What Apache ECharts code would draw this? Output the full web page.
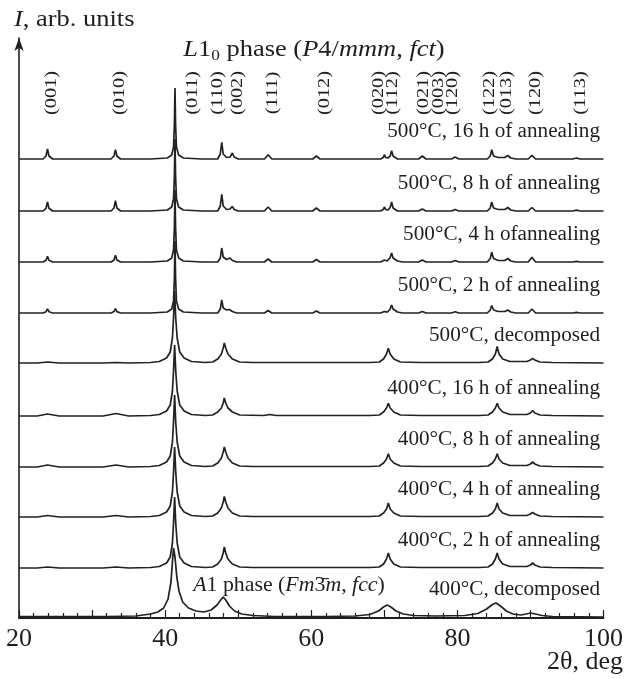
<!DOCTYPE html>
<html>
<head>
<meta charset="utf-8">
<script src="https://cdn.jsdelivr.net/npm/echarts@6/dist/echarts.min.js"></script>
<style>
  html, body { margin: 0; padding: 0; background: #fff; }
  #main { width: 626px; height: 679px; }
</style>
</head>
<body>
<div id="main"></div>
<script>
// curve names, bottom to top, and their vertical offsets (arb. units)
const traceNames = [
  '400°C, decomposed', '400°C, 2 h of annealing', '400°C, 4 h of annealing',
  '400°C, 8 h of annealing', '400°C, 16 h of annealing', '500°C, decomposed',
  '500°C, 2 h of annealing', '500°C, 4 h ofannealing', '500°C, 8 h of annealing',
  '500°C, 16 h of annealing'
];
const traceOffsets = [1, 50, 101, 151, 202, 255, 305, 356, 407, 459];

// hkl labels of the L1_0 phase and where they sit (2theta)
const peakLabels = ['(001)', '(010)', '(011)', '(110)', '(002)', '(111)', '(012)', '(020)',
  '(112)', '(021)', '(003)', '(120)', '(122)', '(013)', '(120)', '(113)'];
const peakLabelPos = [24.5, 33.7, 43.8, 47.2, 49.9, 54.7, 61.8, 69.2,
  71.1, 75.4, 77.4, 79.4, 84.4, 86.7, 90.7, 96.9];

const xTickLabels = [20, 40, 60, 80, 100];

// measured patterns [2theta, I]
const t400dec = [[20,0.5],[26,0.5],[32,0.5],[36,1],[38,3],[39,5],[39.8,9],[40.4,18],[40.8,35],[41.0,55],[41.15,69],[41.35,60],[41.6,40],[41.9,26],[42.4,15],[43.2,9],[44.2,6],[45.3,5],[46.3,7],[47.1,12],[47.6,17],[47.95,20],[48.3,17],[48.8,11],[49.5,6],[50.5,3],[52,1.5],[55,0.5],[62,0.5],[66,1],[68,2.5],[69.2,6],[69.9,10],[70.4,12],[70.9,10],[71.6,6],[72.6,3],[74,1.5],[77,1],[81,1.5],[82.8,3.5],[84.0,8],[84.8,12.5],[85.3,14],[85.9,11],[86.7,6],[87.6,3],[88.7,2],[89.4,3],[90.0,4],[90.7,3],[91.6,1.5],[93,0.5],[100,0]];
const t400h2 = [[20,0],[22.5,0],[23.9,1],[25.5,0],[31.5,0],[33.3,1],[35,0],[38,0.5],[39.2,1.5],[40.2,5],[40.7,11],[41.0,25],[41.15,45],[41.3,71],[41.45,45],[41.65,25],[42.0,11],[42.6,5],[43.6,1.5],[45.5,0.5],[46.5,1],[47.2,4],[47.7,9],[47.95,15],[48.1,21],[48.3,15],[48.6,9],[49.2,4],[50.2,1],[52,0.5],[60,0.5],[68,0.5],[69.3,1],[69.9,4],[70.3,9],[70.55,15],[70.8,9],[71.3,4],[72.2,1],[75,0.5],[83,0.5],[84.2,1],[84.8,4],[85.2,9],[85.45,15],[85.7,9],[86.2,4],[87.2,1.5],[89.5,1.5],[90.0,3],[90.3,5],[90.6,3],[91.3,1],[93,0.5],[100,0]];
const t400h4 = [[20,0],[22.5,0],[23.9,1.5],[25.5,0],[31.5,0],[33.3,1.5],[35,0],[38,0.5],[39.2,1.5],[40.2,5],[40.7,11],[41.0,25],[41.15,45],[41.3,70],[41.45,45],[41.65,25],[42.0,11],[42.6,5],[43.6,1.5],[45.5,0.5],[46.5,1],[47.2,4],[47.7,9],[47.95,15],[48.1,20.5],[48.3,15],[48.6,9],[49.2,4],[50.2,1],[52,0.5],[60,0.5],[68,0.5],[69.3,1],[69.9,4],[70.3,8],[70.55,14],[70.8,8],[71.3,4],[72.2,1],[75,0.5],[83,0.5],[84.2,1],[84.8,4],[85.2,8],[85.45,14],[85.7,8],[86.2,4],[87.2,1.5],[89.5,1.5],[90.0,3],[90.3,4.7],[90.6,3],[91.3,1],[93,0.5],[100,0]];
const t400h8 = [[20,0],[22.5,0],[23.9,2],[25.5,0],[31.5,0],[33.3,2],[35,0],[38,0.5],[39.2,1.5],[40.2,5],[40.7,11],[41.0,25],[41.15,45],[41.3,72],[41.45,45],[41.65,25],[42.0,11],[42.6,5],[43.6,1.5],[45.5,0.5],[46.5,1],[47.2,4],[47.7,9],[47.95,15],[48.1,20],[48.3,15],[48.6,9],[49.2,4],[50.2,1],[52,0.5],[60,0.5],[68,0.5],[69.3,1],[69.9,4],[70.3,8],[70.55,13.3],[70.8,8],[71.3,4],[72.2,1],[75,0.5],[83,0.5],[84.2,1],[84.8,4],[85.2,8],[85.45,13.3],[85.7,8],[86.2,4],[87.2,1.5],[89.5,1.5],[90.0,3],[90.3,5],[90.6,3],[91.3,1],[93,0.5],[100,0]];
const t400h16 = [[20,0],[22.5,0],[23.9,2],[25.5,0],[31.5,0],[33.3,2.5],[35,0],[38,0.5],[39.2,1.5],[40.2,5],[40.7,11],[41.0,25],[41.15,45],[41.3,71],[41.45,45],[41.65,25],[42.0,11],[42.6,5],[43.6,1.5],[45.5,0.5],[46.5,1],[47.2,4],[47.7,8],[47.95,13],[48.1,18],[48.3,13],[48.6,8],[49.2,4],[50.2,1],[53.5,0.5],[54.3,1.5],[55.2,0.5],[60,0.5],[68,0.5],[69.3,1],[69.9,4],[70.3,8],[70.55,12.7],[70.8,8],[71.3,4],[72.2,1],[75,0.5],[83,0.5],[84.2,1],[84.8,4],[85.2,8],[85.45,12.7],[85.7,8],[86.2,4],[87.2,1.5],[89.5,1.5],[90.0,3],[90.3,5.3],[90.6,3],[91.3,1],[93,0.5],[100,0]];
const t500dec = [[20,0],[22.5,0],[23.9,1],[25.5,0],[31.5,0],[33.3,0.5],[35,0],[38,0.5],[39.2,1.5],[40.2,5],[40.7,11],[41.0,25],[41.15,45],[41.3,72],[41.45,45],[41.65,25],[42.0,11],[42.6,5],[43.6,1.5],[45.5,0.5],[46.5,1],[47.2,4],[47.7,9],[47.95,15],[48.1,20],[48.3,15],[48.6,9],[49.2,4],[50.2,1],[52,0.5],[60,0.5],[68,0.5],[69.3,1],[69.9,4],[70.3,9],[70.55,14.7],[70.8,9],[71.3,4],[72.2,1],[75,0.5],[83,0.5],[84.2,1],[84.8,4],[85.2,9],[85.45,16.5],[85.7,9],[86.2,4],[87.2,1.5],[89.5,1.5],[90.0,3],[90.3,4.7],[90.6,3],[91.3,1],[93,0.5],[100,0]];
const t500h2 = [[20,0],[23.3,0],[23.7,1.3],[23.9,4],[24.1,1.3],[24.6,0],[28,0],[32.6,0],[33.0,1.4],[33.2,4.5],[33.4,1.4],[33.9,0],[38,0],[40.3,1],[40.9,4],[41.15,12],[41.27,35],[41.35,72],[41.43,35],[41.55,12],[41.85,4],[42.5,1],[45,0],[47.2,0],[47.55,4],[47.75,13],[47.95,5],[48.4,3],[48.8,3.5],[49.2,1.5],[49.8,0],[53.6,0],[54.1,2.5],[54.6,0],[60.2,0],[60.7,2],[61.2,0],[69.5,0],[70.0,1.5],[70.4,0.8],[70.8,4],[71.0,8],[71.2,4],[71.8,1],[72.5,0],[74.7,0],[75.2,1.5],[75.7,0],[79.2,0],[79.7,1.2],[80.2,0],[84.1,0],[84.5,3],[84.7,7.5],[84.95,3],[85.6,1.5],[86.5,1.5],[86.9,3],[87.3,1],[88,0],[89.7,0],[90.2,4],[90.7,0],[95.8,0],[96.3,0.7],[96.8,0],[100,0]];
const t500h4 = [[20,0],[23.3,0],[23.7,1.7],[23.9,5.7],[24.1,1.7],[24.6,0],[28,0],[32.6,0],[33.0,2],[33.2,6.7],[33.4,2],[33.9,0],[38,0],[40.3,1],[40.9,4],[41.15,12],[41.27,35],[41.35,72],[41.43,35],[41.55,12],[41.85,4],[42.5,1],[45,0],[47.2,0],[47.55,4],[47.75,14],[47.95,5],[48.4,2.5],[48.9,4],[49.2,1.5],[49.8,0],[53.6,0],[54.1,3],[54.6,0],[60.2,0],[60.7,2.5],[61.2,0],[69.5,0],[70.0,2],[70.4,1],[70.8,4.5],[71.0,9],[71.2,4],[71.8,1],[72.5,0],[74.7,0],[75.2,2],[75.7,0],[79.2,0],[79.7,1.5],[80.2,0],[84.1,0],[84.5,3.5],[84.7,9.7],[84.95,3.5],[85.6,1.5],[86.5,1.5],[86.9,3.5],[87.3,1],[88,0],[89.7,0],[90.2,4.7],[90.7,0],[95.8,0],[96.3,0.7],[96.8,0],[100,0]];
const t500h8 = [[20,0],[23.3,0],[23.7,2.7],[23.9,9],[24.1,2.7],[24.6,0],[28,0],[32.6,0],[33.0,3],[33.2,10.3],[33.4,3],[33.9,0],[38,0],[40.3,1],[40.9,4],[41.15,12],[41.27,35],[41.35,72],[41.43,35],[41.55,12],[41.85,4],[42.5,1],[45,0],[47.2,0],[47.55,5],[47.75,16.7],[47.95,5],[48.4,1.5],[48.9,2],[49.2,4.7],[49.45,1.5],[50,0],[53.6,0],[54.1,4],[54.6,0],[60.2,0],[60.7,3],[61.2,0],[69.5,0],[69.85,1.5],[70.0,4],[70.2,1.5],[70.5,1],[70.8,3.5],[71.0,9],[71.2,3],[71.8,0],[74.7,0],[75.2,2],[75.7,0],[79.2,0],[79.7,1.5],[80.2,0],[84.1,0],[84.5,3],[84.7,9],[84.95,3],[85.6,1.5],[86.5,1.5],[86.9,3.5],[87.3,1],[88,0],[89.7,0],[90.2,3.5],[90.7,0],[95.8,0],[96.3,0.8],[96.8,0],[100,0]];
const t500h16 = [[20,0],[23.3,0],[23.7,3],[23.9,10],[24.1,3],[24.6,0],[28,0],[32.6,0],[33.0,3],[33.2,9.3],[33.4,3],[33.9,0],[38,0],[40.3,1],[40.9,4],[41.15,12],[41.27,35],[41.35,71],[41.43,35],[41.55,12],[41.85,4],[42.5,1],[45,0],[47.2,0],[47.55,5],[47.75,16.7],[47.95,5],[48.4,1.5],[48.9,2],[49.2,6],[49.45,2],[50,0],[53.6,0],[54.1,4.3],[54.6,0],[60.2,0],[60.7,3],[61.2,0],[69.5,0],[69.85,1.5],[70.0,4.3],[70.2,1.5],[70.5,1],[70.8,3],[71.0,8.3],[71.2,3],[71.8,0],[74.7,0],[75.2,3],[75.7,0],[79.2,0],[79.7,2],[80.2,0],[84.1,0],[84.5,3],[84.7,9.3],[84.95,3],[85.6,1.5],[86.5,1.5],[86.9,3.5],[87.3,1],[88,0],[89.7,0],[90.2,3.7],[90.7,0],[95.8,0],[96.3,1],[96.8,0],[100,0]];

const traces = [t400dec, t400h2, t400h4, t400h8, t400h16, t500dec, t500h2, t500h4, t500h8, t500h16];

const SERIF = '"Liberation Serif", "Times New Roman", serif';
const INK = '#1e1e1e';

const chart = echarts.init(document.getElementById('main'), null, { renderer: 'canvas' });

chart.setOption({
  animation: false,
  backgroundColor: '#fff',
  grid: { left: 19, right: 21, top: 38, bottom: 61 },
  xAxis: {
    type: 'value',
    min: 20,
    max: 100,
    interval: 10,
    axisLine: { lineStyle: { color: INK, width: 1.8 } },
    axisTick: { inside: true, length: 8, lineStyle: { color: INK, width: 1.2 } },
    minorTick: { show: true, splitNumber: 5, length: 5, lineStyle: { color: INK, width: 1.2 } },
    splitLine: { show: false },
    axisLabel: {
      margin: 8,
      color: INK,
      fontFamily: SERIF,
      fontSize: 26,
      formatter: v => (xTickLabels.indexOf(v) >= 0 ? String(v) : '')
    }
  },
  yAxis: {
    type: 'value',
    min: 0,
    max: 580,
    axisLine: {
      show: true,
      symbol: ['none', 'arrow'],
      symbolSize: [7, 13],
      lineStyle: { color: INK, width: 1.6 }
    },
    axisTick: { show: false },
    axisLabel: { show: false },
    splitLine: { show: false }
  },
  series: traces.map((pts, i) => ({
    name: traceNames[i],
    type: 'line',
    showSymbol: false,
    silent: true,
    lineStyle: { color: '#222', width: 1.7 },
    data: pts.map(p => [p[0], p[1] + traceOffsets[i]])
  }))
});

const px = (x, y) => chart.convertToPixel({ gridIndex: 0 }, [x, y]);

const graphics = [];

// y axis name
graphics.push({
  type: 'text', x: 14, y: 20, scaleX: 1.15,
  style: {
    text: '{i|I}, arb. units',
    font: '23px ' + SERIF, fill: INK,
    verticalAlign: 'middle', align: 'left',
    rich: { i: { fontStyle: 'italic', fontSize: 23, fontFamily: SERIF, fill: INK } }
  }
});

// phase title
graphics.push({
  type: 'text', x: 314, y: 50, scaleX: 1.15,
  style: {
    text: '{i|L}1{s|0} phase ({i|P}4/{i|mmm}, {i|fct})',
    font: '23px ' + SERIF, fill: INK,
    align: 'center', verticalAlign: 'middle',
    rich: {
      i: { fontStyle: 'italic', fontSize: 23, fontFamily: SERIF, fill: INK, lineHeight: 28 },
      s: { fontSize: 15, fontFamily: SERIF, fill: INK, verticalAlign: 'bottom', lineHeight: 15 }
    }
  }
});

// hkl labels, rotated
peakLabels.forEach((t, i) => {
  graphics.push({
    type: 'text',
    x: px(peakLabelPos[i], 0)[0],
    y: 93,
    rotation: Math.PI / 2,
    scaleX: 1.2,
    style: {
      text: t, font: '17px ' + SERIF, fill: INK,
      align: 'center', verticalAlign: 'middle'
    }
  });
});

// curve labels
traceNames.forEach((t, i) => {
  graphics.push({
    type: 'text',
    x: 600,
    y: px(100, traceOffsets[i])[1] - 27,
    scaleX: 1.06,
    style: {
      text: t, font: '20px ' + SERIF, fill: INK,
      align: 'right', verticalAlign: 'middle'
    }
  });
});

// A1 phase note
graphics.push({
  type: 'text', x: 289, y: 585, scaleX: 1.04,
  style: {
    text: '{i|A}1 phase ({i|Fm}3\u0304{i|m}, {i|fcc})',
    font: '21px ' + SERIF, fill: INK,
    align: 'center', verticalAlign: 'middle',
    rich: { i: { fontStyle: 'italic', fontSize: 21, fontFamily: SERIF, fill: INK } }
  }
});

// x axis name
graphics.push({
  type: 'text', x: 623, y: 662,
  style: {
    text: '2θ, deg', font: '26px ' + SERIF, fill: INK,
    align: 'right', verticalAlign: 'middle'
  }
});

chart.setOption({ graphic: graphics });
</script>
</body>
</html>
